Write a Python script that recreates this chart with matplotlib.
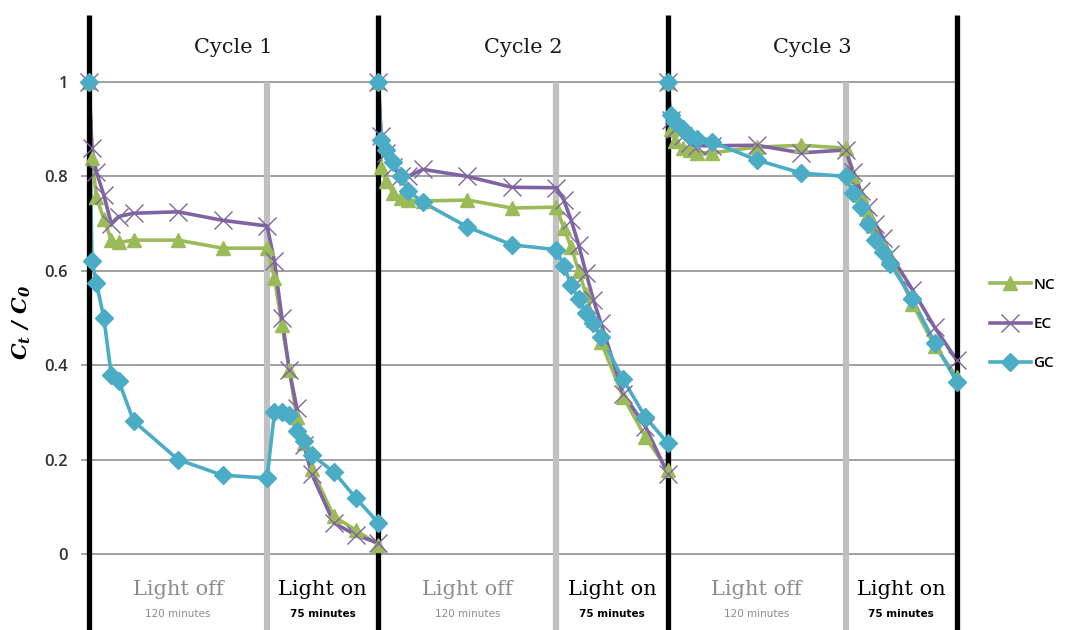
import matplotlib
matplotlib.use('Agg')
import matplotlib.pyplot as plt
from matplotlib.lines import Line2D

# sampling times (minutes), three cycles of 120 min dark + 75 min light
minutes = [
    0, 2, 5, 10, 15, 20, 30, 60, 90, 120,
    125, 130, 135, 140, 145, 150, 165, 180, 195,
    195, 197, 200, 205, 210, 215, 225, 255, 285, 315,
    320, 325, 330, 335, 340, 345, 360, 375, 390,
    390, 392, 395, 400, 405, 410, 420, 450, 480, 510,
    515, 520, 525, 530, 535, 540, 555, 570, 585,
]

nc = [
    1.0, 0.84, 0.756, 0.71, 0.665, 0.66, 0.665, 0.665, 0.648, 0.648,
    0.585, 0.485, 0.39, 0.29, 0.235, 0.18, 0.08, 0.05, 0.02,
    1.0, 0.82, 0.79, 0.765, 0.755, 0.75, 0.748, 0.75, 0.733, 0.735,
    0.69, 0.65, 0.60, 0.55, 0.495, 0.45, 0.333, 0.248, 0.178,
    1.0, 0.90, 0.875, 0.86, 0.855, 0.85, 0.85, 0.862, 0.866, 0.86,
    0.80, 0.76, 0.72, 0.68, 0.655, 0.63, 0.53, 0.44, 0.375,
]

ec = [
    1.0, 0.86, 0.81, 0.76, 0.70, 0.715, 0.722, 0.725, 0.707, 0.695,
    0.62, 0.50, 0.39, 0.31, 0.23, 0.17, 0.066, 0.04, 0.023,
    1.0, 0.885, 0.85, 0.82, 0.80, 0.80, 0.815, 0.80, 0.777, 0.776,
    0.75, 0.707, 0.655, 0.595, 0.538, 0.49, 0.34, 0.27, 0.17,
    1.0, 0.92, 0.90, 0.885, 0.87, 0.865, 0.865, 0.866, 0.85, 0.856,
    0.81, 0.77, 0.735, 0.70, 0.67, 0.635, 0.56, 0.48, 0.41,
]

gc = [
    1.0, 0.62, 0.575, 0.50, 0.38, 0.367, 0.282, 0.20, 0.167, 0.161,
    0.30, 0.30, 0.295, 0.26, 0.24, 0.21, 0.174, 0.118, 0.066,
    1.0, 0.877, 0.855, 0.83, 0.80, 0.77, 0.745, 0.693, 0.655, 0.645,
    0.61, 0.57, 0.54, 0.51, 0.49, 0.46, 0.37, 0.29, 0.235,
    1.0, 0.93, 0.915, 0.90, 0.885, 0.88, 0.873, 0.835, 0.807, 0.80,
    0.765, 0.735, 0.70, 0.665, 0.64, 0.615, 0.54, 0.447, 0.364,
]

cycle_starts = [0, 195, 390, 585]
light_on_starts = [120, 315, 510]
cycle_labels = ['Cycle 1', 'Cycle 2', 'Cycle 3']
yticks = [0, 0.2, 0.4, 0.6, 0.8, 1.0]

series = [
    ('NC', nc, '#9bbb59', '^', 10, 1),
    ('EC', ec, '#8064a2', 'x', 13, 1.0),
    ('GC', gc, '#4bacc6', 'D', 9, 1),
]

fig = plt.figure(figsize=(10.67, 6.3), dpi=100)
ax = fig.add_axes([89 / 1067, 0, (957 - 89) / 1067, 615 / 630])
ax.set_xlim(0, 585)
ax.set_ylim(-0.161, 1.142)
for s in ax.spines.values():
    s.set_visible(False)
ax.set_xticks([])
ax.set_yticks(yticks)
ax.set_yticklabels(['0', '0.2', '0.4', '0.6', '0.8', '1'])
ax.tick_params(axis='y', length=6, width=1.3, color='#a0a0a0',
               labelsize=12, labelcolor='#333333', pad=9)
for lab in ax.get_yticklabels():
    lab.set_fontfamily('Open Sans')
    lab.set_fontweight('semibold')

for y in yticks:
    ax.axhline(y, color='#a0a0a0', lw=1.4, zorder=1)

for x in light_on_starts:
    ax.vlines(x, -0.161, 1.0, color='#c0c0c0', lw=4.5, zorder=1.5)

handles = []
for name, vals, col, mk, ms, mew in series:
    ax.plot(minutes, vals, color=col, lw=2.6, zorder=2,
            solid_joinstyle='round')
    ax.plot(minutes, vals, ls='none', marker=mk, ms=ms, color=col,
            mec=col, mew=mew, zorder=4, clip_on=False)
    handles.append(Line2D([], [], color=col, lw=2.6, marker=mk, ms=ms,
                          mec=col, mew=mew))

for x in cycle_starts:
    ax.vlines(x, -0.161, 1.142, color='black', lw=3.8, zorder=3,
              clip_on=False)

for i, lab in enumerate(cycle_labels):
    mid = (cycle_starts[i] + cycle_starts[i + 1]) / 2
    ax.text(mid, 1.074, lab, ha='center', va='center', fontsize=15,
            family='DejaVu Serif', color='#1a1a1a')
    off_mid = (cycle_starts[i] + light_on_starts[i]) / 2
    on_mid = (light_on_starts[i] + cycle_starts[i + 1]) / 2
    ax.text(off_mid, -0.076, 'Light off', ha='center', va='center',
            fontsize=15, family='DejaVu Serif', color='#8c8c8c')
    ax.text(off_mid, -0.127, '120 minutes', ha='center', va='center',
            fontsize=7.5, family='DejaVu Sans', color='#8c8c8c')
    ax.text(on_mid, -0.076, 'Light on', ha='center', va='center',
            fontsize=15, family='DejaVu Serif', color='black')
    ax.text(on_mid, -0.127, '75 minutes', ha='center', va='center',
            fontsize=7.5, family='DejaVu Sans', color='black',
            weight='bold')

fig.text(22 / 1067, 1 - 322 / 630, r'C$_\mathregular{t}$ / C$_\mathregular{0}$',
         rotation=90, ha='center', va='center', fontsize=15,
         family='DejaVu Serif', style='italic', weight='bold')

fig.legend(handles, ['NC', 'EC', 'GC'], loc='center left',
           bbox_to_anchor=(982 / 1067, 1 - 324 / 630), frameon=False,
           handlelength=2.7, handletextpad=0.15, labelspacing=1.65,
           borderaxespad=0.3, borderpad=0.2,
           prop={'family': 'Open Sans', 'size': 11, 'weight': 'semibold'})

fig.savefig('out.png', dpi=100)
